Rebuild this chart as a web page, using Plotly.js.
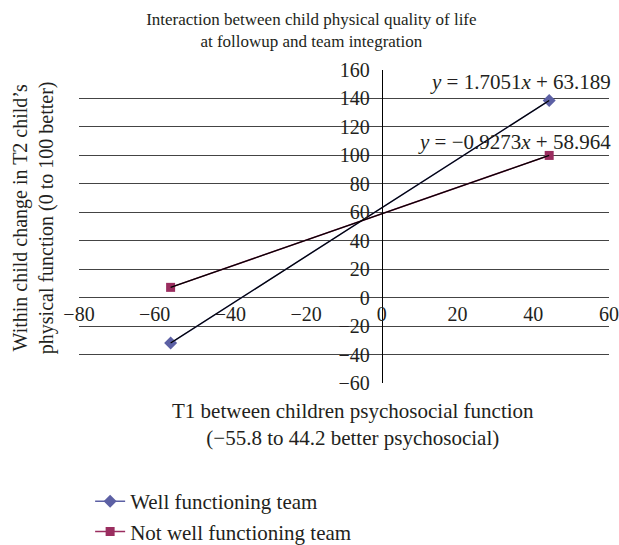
<!DOCTYPE html>
<html><head><meta charset="utf-8">
<script src="https://cdn.plot.ly/plotly-3.0.1.min.js"></script>
<style>html,body{margin:0;padding:0;background:#fff}</style>
</head><body><div id="chart" style="width:619px;height:545px"></div>
<script>
// ---- data ----
const seriesNames = ['Well functioning team', 'Not well functioning team'];
const xWell = [-55.8, 44.2];
const yWell = [-31.96, 138.55];
const xNotWell = [-55.8, 44.2];
const yNotWell = [7.22, 99.95];
const xTickVals = [-80, -60, -40, -20, 0, 20, 40, 60];
const yTickVals = [-60, -40, -20, 0, 20, 40, 60, 80, 100, 120, 140, 160];
const eqWell = '<i>y</i> = 1.7051<i>x</i> + 63.189';
const eqNotWell = '<i>y</i> = \u22120.9273<i>x</i> + 58.964';
const chartTitle = 'Interaction between child physical quality of life<br>at followup and team integration';
const xTitle = 'T1 between children psychosocial function<br>(\u221255.8 to 44.2 better psychosocial)';
const yTitle = 'Within child change in T2 child\u2019s<br>physical function (0 to 100 better)';

const xRange = [-80, 60];
const yRange = [-60, 160];
const FONT = 'Liberation Serif, Times New Roman, serif';
const TXT = '#231f20';
const colWell = '#5C60A4';
const colNot = '#9A2D5F';

const traces = [
  {x: xWell, y: yWell, name: seriesNames[0], type: 'scatter', mode: 'lines+markers',
   line: {color: colWell, width: 1.5}, marker: {symbol: 'diamond', size: 10, color: colWell}},
  {x: xNotWell, y: yNotWell, name: seriesNames[1], type: 'scatter', mode: 'lines+markers',
   line: {color: colNot, width: 1.5}, marker: {symbol: 'square', size: 9, color: colNot}},
  {x: xWell, y: yWell, type: 'scatter', mode: 'lines', showlegend: false, hoverinfo: 'skip',
   line: {color: '#000', width: 1.2}},
  {x: xNotWell, y: yNotWell, type: 'scatter', mode: 'lines', showlegend: false, hoverinfo: 'skip',
   line: {color: '#000', width: 1.2}}
];

const yPos = (0 - xRange[0]) / (xRange[1] - xRange[0]);
const xPos = (0 - yRange[0]) / (yRange[1] - yRange[0]);

const layout = {
  width: 619, height: 545,
  margin: {l: 79, r: 10, t: 70, b: 162},
  paper_bgcolor: '#fff', plot_bgcolor: '#fff',
  font: {family: FONT, size: 20, color: TXT},
  title: {text: chartTitle, x: 0.503, xanchor: 'center', xref: 'container',
          y: 0.955, yanchor: 'middle', yref: 'container',
          font: {family: FONT, size: 17, color: TXT}},
  xaxis: {range: xRange, tickvals: xTickVals, domain: [0, 1], anchor: 'free', position: xPos,
          showgrid: false, zeroline: false, showline: false,
          automargin: false, ticks: '', ticklabelstandoff: 2, ticklabeloverflow: 'allow',
          tickfont: {family: FONT, size: 20, color: TXT}},
  yaxis: {range: yRange, tickvals: yTickVals, domain: [0, 1], anchor: 'free', position: yPos,
          showgrid: true, gridcolor: '#444', gridwidth: 1, zeroline: false,
          showline: true, linecolor: '#000', linewidth: 1,
          automargin: false, ticks: '', ticklabelstandoff: 8, ticklabeloverflow: 'allow',
          tickfont: {family: FONT, size: 20, color: TXT}},
  showlegend: true,
  legend: {x: 0.021, xanchor: 'left', xref: 'paper', y: 1 - 481 / 545, yanchor: 'top', yref: 'container',
           orientation: 'v', tracegroupgap: 0,
           font: {family: FONT, size: 21, color: TXT}, bgcolor: 'rgba(0,0,0,0)'},
  annotations: [
    {text: eqWell, xref: 'paper', x: 1.008, xanchor: 'right', yref: 'y', y: 151.5, yanchor: 'middle',
     showarrow: false, font: {family: FONT, size: 21, color: TXT}},
    {text: eqNotWell, xref: 'paper', x: 1.008, xanchor: 'right', yref: 'y', y: 109.5, yanchor: 'middle',
     showarrow: false, font: {family: FONT, size: 21, color: TXT}},
    {text: xTitle, xref: 'paper', x: 0.517, xanchor: 'center', yref: 'paper', y: -0.134, yanchor: 'middle',
     showarrow: false, font: {family: FONT, size: 21, color: TXT}},
    {text: yTitle, xref: 'paper', x: -0.0865, xanchor: 'center', yref: 'paper', y: 0.527, yanchor: 'middle',
     textangle: -90, showarrow: false, font: {family: FONT, size: 20, color: TXT}}
  ]
};

Plotly.newPlot('chart', traces, layout, {displayModeBar: false, staticPlot: true});
</script></body></html>
